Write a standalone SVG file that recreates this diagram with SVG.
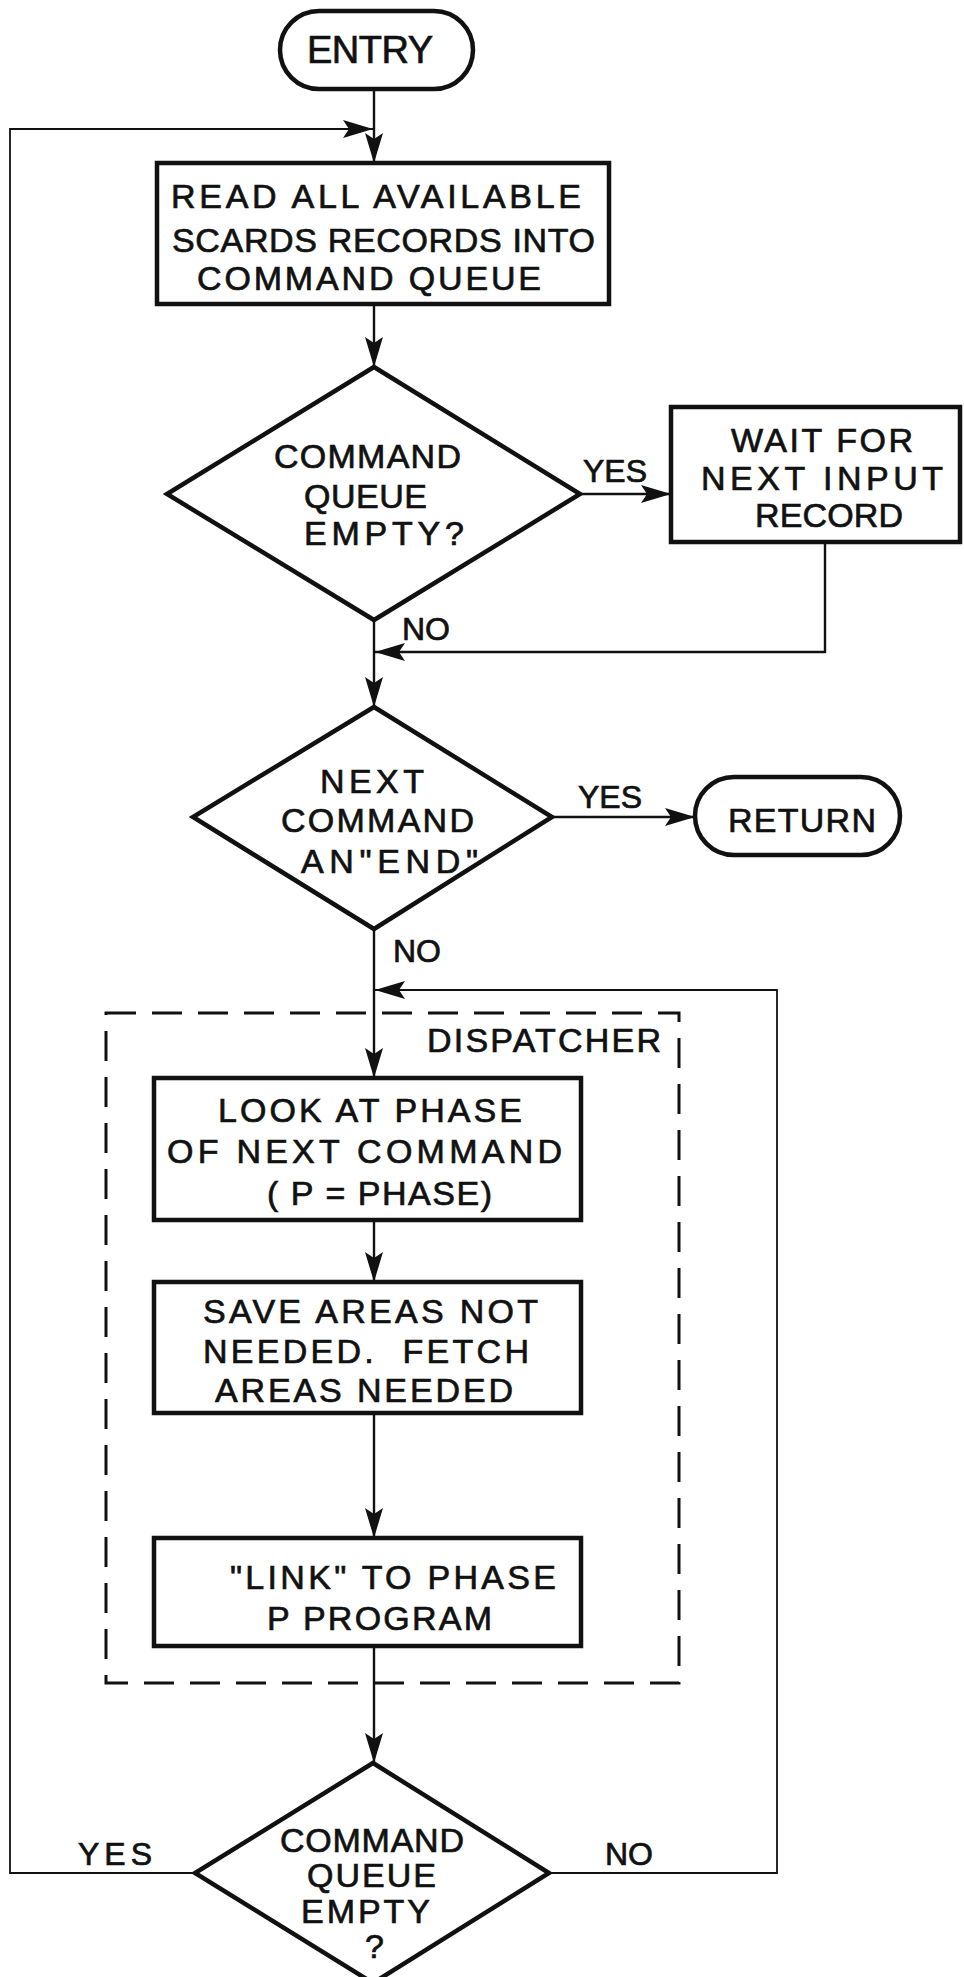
<svg xmlns="http://www.w3.org/2000/svg" width="964" height="1977" viewBox="0 0 964 1977">
  <style>
    text { font-family: "Liberation Sans", Arial, sans-serif; font-size: 34px; fill: #111; stroke: #111; stroke-width: 0.7; }
    .lbl { font-size: 32px; }
    .box { fill: #fff; stroke: #111; stroke-width: 4.5; }
    .dia { fill: #fff; stroke: #111; stroke-width: 4.5; stroke-linejoin: miter; }
    .term { fill: #fff; stroke: #111; stroke-width: 4.5; }
    .wire { fill: none; stroke: #111; stroke-width: 2.4; }
    .wire-thin { fill: none; stroke: #111; stroke-width: 1.8; }
    .dash { fill: none; stroke: #111; stroke-width: 3; stroke-dasharray: 30 16; }
  </style>
  <defs>
    <marker id="arrow" viewBox="0 0 30 20" refX="30" refY="10" markerWidth="30" markerHeight="20" markerUnits="userSpaceOnUse" orient="auto">
      <path d="M0,1 L30,10 L0,19 L6,10 z" fill="#111"/>
    </marker>
  </defs>
  <rect x="0" y="0" width="964" height="1977" fill="#fff"/>

  <!-- dispatcher boundary -->
  <g id="dispatcher">
    <rect class="dash" x="106" y="1013" width="573" height="670"/>
    <text x="427" y="1052" textLength="234" lengthAdjust="spacing">DISPATCHER</text>
  </g>

  <!-- connectors -->
  <g id="connectors">
    <path class="wire" d="M374,89 V163" marker-end="url(#arrow)"/>
    <path class="wire-thin" d="M194,1873 H10 V129 H373" marker-end="url(#arrow)"/>
    <path class="wire" d="M374,304 V367" marker-end="url(#arrow)"/>
    <path class="wire" d="M580,494 H671" marker-end="url(#arrow)"/>
    <path class="wire" d="M825,542 V652 H375" marker-end="url(#arrow)"/>
    <path class="wire" d="M374,620 V707" marker-end="url(#arrow)"/>
    <path class="wire" d="M552,817 H695" marker-end="url(#arrow)"/>
    <path class="wire" d="M374,929 V1078" marker-end="url(#arrow)"/>
    <path class="wire-thin" d="M549,1873 H777 V990 H375" marker-end="url(#arrow)"/>
    <path class="wire" d="M374,1220 V1282" marker-end="url(#arrow)"/>
    <path class="wire" d="M374,1413 V1538" marker-end="url(#arrow)"/>
    <path class="wire" d="M374,1646 V1763" marker-end="url(#arrow)"/>
    <text class="lbl" x="583" y="482">YES</text>
    <text class="lbl" x="402" y="640">NO</text>
    <text class="lbl" x="578" y="808">YES</text>
    <text class="lbl" x="393" y="962">NO</text>
    <text class="lbl" x="78" y="1865" textLength="74" lengthAdjust="spacing">YES</text>
    <text class="lbl" x="605" y="1865">NO</text>
  </g>

  <g id="entry">
    <rect class="term" x="280" y="11" width="193" height="78" rx="39" ry="39"/>
    <text x="307" y="63" style="font-size:38px" textLength="126" lengthAdjust="spacing">ENTRY</text>
  </g>

  <g id="read-scards">
    <rect class="box" x="157" y="163" width="452" height="141"/>
    <text x="171" y="208" textLength="410" lengthAdjust="spacing">READ ALL AVAILABLE</text>
    <text x="172" y="252" textLength="423" lengthAdjust="spacing">SCARDS RECORDS INTO</text>
    <text x="197" y="290" textLength="344" lengthAdjust="spacing">COMMAND QUEUE</text>
  </g>

  <g id="queue-empty-1">
    <polygon class="dia" points="374,367 580,494 374,620 167,494"/>
    <text x="274" y="468" textLength="187" lengthAdjust="spacing">COMMAND</text>
    <text x="304" y="508" textLength="123" lengthAdjust="spacing">QUEUE</text>
    <text x="304" y="545" textLength="160" lengthAdjust="spacing">EMPTY?</text>
  </g>

  <g id="wait-input">
    <rect class="box" x="671" y="407" width="289" height="135"/>
    <text x="731" y="452" textLength="182" lengthAdjust="spacing">WAIT FOR</text>
    <text x="701" y="490" textLength="242" lengthAdjust="spacing">NEXT INPUT</text>
    <text x="755" y="527" textLength="148" lengthAdjust="spacing">RECORD</text>
  </g>

  <g id="end-check">
    <polygon class="dia" points="374,707 552,817 374,929 193,817"/>
    <text x="320" y="793" textLength="104" lengthAdjust="spacing">NEXT</text>
    <text x="281" y="832" textLength="193" lengthAdjust="spacing">COMMAND</text>
    <text x="301" y="873" textLength="177" lengthAdjust="spacing">AN"END"</text>
  </g>

  <g id="return">
    <rect class="term" x="695" y="777" width="205" height="78" rx="39" ry="39"/>
    <text x="728" y="832" textLength="148" lengthAdjust="spacing">RETURN</text>
  </g>

  <g id="look-phase">
    <rect class="box" x="154" y="1078" width="427" height="142"/>
    <text x="218" y="1122" textLength="304" lengthAdjust="spacing">LOOK AT PHASE</text>
    <text x="167" y="1163" textLength="395" lengthAdjust="spacing">OF NEXT COMMAND</text>
    <text x="267" y="1205" textLength="225" lengthAdjust="spacing">( P = PHASE)</text>
  </g>

  <g id="save-fetch">
    <rect class="box" x="154" y="1282" width="427" height="131"/>
    <text x="203" y="1323" textLength="335" lengthAdjust="spacing">SAVE AREAS NOT</text>
    <text x="203" y="1363" textLength="326" lengthAdjust="spacing" xml:space="preserve">NEEDED.  FETCH</text>
    <text x="215" y="1402" textLength="298" lengthAdjust="spacing">AREAS NEEDED</text>
  </g>

  <g id="link-phase">
    <rect class="box" x="154" y="1538" width="427" height="108"/>
    <text x="230" y="1589" textLength="326" lengthAdjust="spacing">"LINK" TO PHASE</text>
    <text x="267" y="1630" textLength="225" lengthAdjust="spacing">P PROGRAM</text>
  </g>

  <g id="queue-empty-2">
    <polygon class="dia" points="373,1763 549,1873 373,1983 195,1873"/>
    <text x="280" y="1852" textLength="184" lengthAdjust="spacing">COMMAND</text>
    <text x="307" y="1887" textLength="129" lengthAdjust="spacing">QUEUE</text>
    <text x="301" y="1923" textLength="129" lengthAdjust="spacing">EMPTY</text>
    <text x="365" y="1958">?</text>
  </g>
</svg>
